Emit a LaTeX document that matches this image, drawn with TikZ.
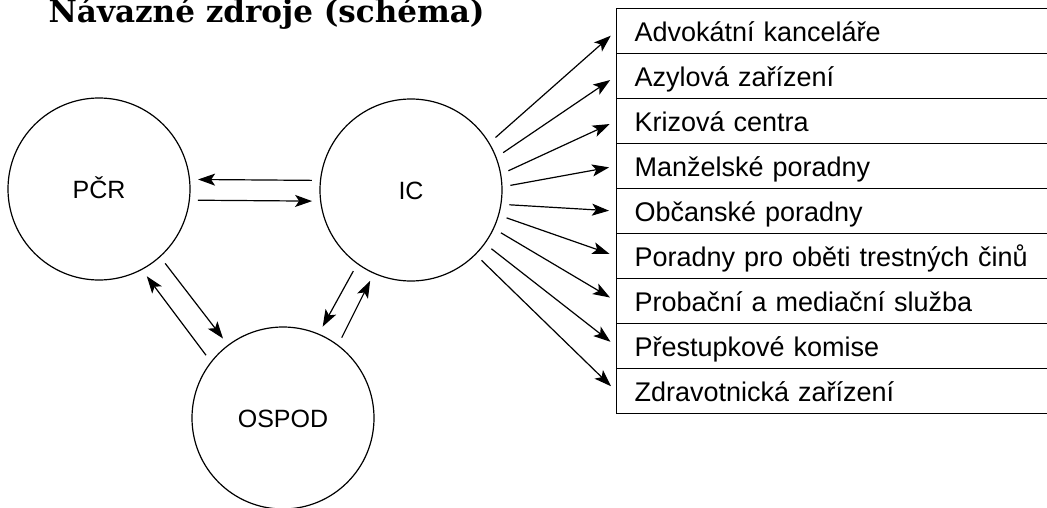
\documentclass[tikz,border=0pt]{standalone}
\usepackage{fontspec}
\setmainfont{Liberation Sans}
\newfontfamily\titlefont{DejaVu Serif}
\usetikzlibrary{arrows.meta,positioning,shapes}

\begin{document}
\begin{tikzpicture}[
                    x=1pt, y=-1pt,
                    line width=1.2pt,
                    every node/.append style={font=\fontsize{25}{28}\selectfont},
                    agency/.style={circle, draw, minimum size=182pt, inner sep=0pt,
                                   text height=18pt, text depth=0pt},
                    service/.style={rectangle, draw, anchor=north west, minimum height=45pt,
                                    text width=430pt, inner xsep=18pt, align=left,
                                    font=\fontsize{27}{30}\selectfont,
                                    text height=20pt, text depth=0pt},
                    link/.style={-{Stealth[length=17pt,width=12pt,inset=4pt]},
                                 shorten <=8pt, shorten >=8pt},
                    fan/.style={link, shorten >=7pt}
                    ]
\useasboundingbox (0,0) rectangle (1047,508);
\clip (0,0) rectangle (1047,508);

\node[anchor=base west, inner sep=0pt, font=\titlefont\bfseries\fontsize{31}{34}\selectfont]
      (title) at (48,23) {Návazné zdroje (schéma)};

\node[agency] (pcr)   at (99,189)  {PČR};
\node[agency] (ic)    at (411,190) {IC};
\node[agency] (ospod) at (283,418) {OSPOD};

\foreach \txt [count=\i] in {Advokátní kanceláře, Azylová zařízení, Krizová centra,
                             Manželské poradny, Občanské poradny,
                             Poradny pro oběti trestných činů,
                             Probační a mediační služba, Přestupkové komise,
                             Zdravotnická zařízení}
  \node[service] (r\i) at (616,{8+45*(\i-1)}) {\txt};

\path
    (ic.174)    edge[link] (pcr.6)
    (pcr.-7)    edge[link] (ic.187)
    (pcr.-48)   edge[link] (ospod.127)
    (ospod.142) edge[link] (pcr.-62)
    (ic.234)    edge[link] (ospod.67)
    (ospod.53)  edge[link] (ic.246);

\foreach \ang/\i in {31/1, 21/2, 10/3, 2/4, -9/5, -16/6, -25/7, -36/8, -45/9}
  \draw[fan] (ic.\ang) -- (r\i.west);
\end{tikzpicture}
\end{document}
